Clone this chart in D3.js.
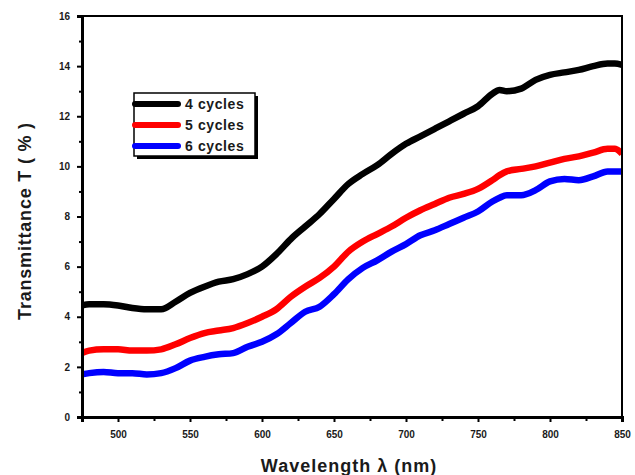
<!DOCTYPE html>
<html>
<head>
<meta charset="utf-8">
<script src="https://cdn.jsdelivr.net/npm/d3@7"></script>
<style>
  body { margin: 0; background: #fff; }
  text { font-family: Arial, "Liberation Sans", sans-serif; font-weight: bold; }
</style>
</head>
<body>
<div id="chart"></div>
<script>
// wavelength samples (nm) and transmittance (%)
var wavelength = [475, 480, 490, 500, 510, 520, 530, 540, 550, 560, 570, 580, 590, 600, 610, 620, 630, 640, 650,
                  660, 670, 680, 690, 700, 710, 720, 730, 740, 750, 760, 765, 770, 780, 790, 800, 810, 820, 830, 840, 845, 850];
var cycles4 = [4.45, 4.5, 4.5, 4.45, 4.35, 4.3, 4.3, 4.6, 4.95, 5.2, 5.4, 5.5, 5.7, 6.0, 6.5, 7.1, 7.6, 8.1, 8.7,
               9.3, 9.7, 10.05, 10.5, 10.9, 11.2, 11.5, 11.8, 12.1, 12.4, 12.9, 13.05, 13.0, 13.1, 13.45, 13.65, 13.75, 13.85, 14.0, 14.1, 14.1, 14.05];
var cycles5 = [2.55, 2.65, 2.7, 2.7, 2.65, 2.65, 2.7, 2.9, 3.15, 3.35, 3.45, 3.55, 3.75, 4.0, 4.3, 4.8, 5.2, 5.55, 6.0,
               6.6, 7.0, 7.3, 7.6, 7.95, 8.25, 8.5, 8.75, 8.9, 9.1, 9.45, 9.65, 9.8, 9.9, 10.0, 10.15, 10.3, 10.4, 10.55, 10.7, 10.7, 10.5];
var cycles6 = [1.7, 1.75, 1.8, 1.75, 1.75, 1.7, 1.75, 1.95, 2.25, 2.4, 2.5, 2.55, 2.8, 3.0, 3.3, 3.75, 4.2, 4.4, 4.9,
               5.5, 5.95, 6.25, 6.6, 6.9, 7.25, 7.45, 7.7, 7.95, 8.2, 8.6, 8.75, 8.85, 8.85, 9.05, 9.4, 9.5, 9.45, 9.6, 9.8, 9.8, 9.8];
var seriesNames = ["4 cycles", "5 cycles", "6 cycles"];
var seriesColors = ["#000000", "#ff0000", "#0000ff"];
var xTicks = [500, 550, 600, 650, 700, 750, 800, 850];
var yTicks = [0, 2, 4, 6, 8, 10, 12, 14, 16];

var svgWidth = 635, svgHeight = 475;
var margin = {top: 16, right: 13, bottom: 58, left: 82},
    width = svgWidth - margin.left - margin.right,
    height = svgHeight - margin.top - margin.bottom;

var svg = d3.select("#chart").append("svg")
    .attr("width", svgWidth)
    .attr("height", svgHeight);

var g = svg.append("g")
    .attr("transform", "translate(" + margin.left + "," + margin.top + ")");

var x = d3.scaleLinear().domain([475, 850]).range([0, width]);
var y = d3.scaleLinear().domain([0, 16]).range([height, 0]);

// curves
var series = [cycles4, cycles5, cycles6];
var line = d3.line()
    .x(function(d, i) { return x(wavelength[i]); })
    .y(function(d) { return y(d); })
    .curve(d3.curveMonotoneX);

g.append("clipPath").attr("id", "clip")
  .append("rect").attr("width", width).attr("height", height);

g.selectAll(".curve")
    .data(series)
  .enter().append("path")
    .attr("class", "curve")
    .attr("clip-path", "url(#clip)")
    .attr("fill", "none")
    .attr("stroke", function(d, i) { return seriesColors[i]; })
    .attr("stroke-width", 6.5)
    .attr("stroke-linejoin", "round")
    .attr("d", line);

// frame (top and right)
g.append("path")
    .attr("d", "M0,0H" + width + "V" + height)
    .attr("fill", "none")
    .attr("stroke", "#000")
    .attr("stroke-width", 2);

// axes
var xAxis = d3.axisBottom(x).tickValues(xTicks).tickSize(5).tickPadding(9).tickFormat(d3.format("d"));
var xMinor = d3.axisBottom(x).tickValues([475, 525, 575, 625, 675, 725, 775, 825]).tickSize(4).tickFormat("");
var yAxis = d3.axisLeft(y).tickValues(yTicks).tickSize(5).tickPadding(7);
var yMinor = d3.axisLeft(y).tickValues([1, 3, 5, 7, 9, 11, 13, 15]).tickSize(3).tickFormat("");

function styleAxis(sel) {
  sel.select(".domain").attr("stroke-width", 3);
  sel.selectAll(".tick line").attr("stroke-width", 2);
  sel.selectAll("text").style("font-size", "10px").style("font-weight", "bold").attr("fill", "#1a1a1a");
}

g.append("g").attr("transform", "translate(0," + height + ")").call(xMinor).call(styleAxis);
g.append("g").attr("transform", "translate(0," + height + ")").call(xAxis).call(styleAxis);
g.append("g").call(yMinor).call(styleAxis);
g.append("g").call(yAxis).call(styleAxis);

// axis titles
svg.append("text")
    .attr("x", 349)
    .attr("y", 472)
    .attr("text-anchor", "middle")
    .style("font-size", "18px")
    .style("letter-spacing", "1px")
    .attr("fill", "#1a1a1a")
    .text("Wavelength \u03bb (nm)");

svg.append("text")
    .attr("transform", "translate(31,221) rotate(-90)")
    .attr("text-anchor", "middle")
    .style("font-size", "18px")
    .style("letter-spacing", "0.8px")
    .attr("fill", "#1a1a1a")
    .text("Transmittance T ( % )");

// legend
var legend = svg.append("g").attr("transform", "translate(134,93)");
legend.append("rect")
    .attr("x", 3).attr("y", 3).attr("width", 121).attr("height", 63)
    .attr("fill", "#000");
legend.append("rect")
    .attr("x", 0).attr("y", 0).attr("width", 121).attr("height", 63)
    .attr("fill", "#fff").attr("stroke", "#000").attr("stroke-width", 1.5);

var rows = legend.selectAll(".row")
    .data(seriesNames)
  .enter().append("g")
    .attr("class", "row")
    .attr("transform", function(d, i) { return "translate(0," + (11 + i * 21) + ")"; });

rows.append("line")
    .attr("x1", 1).attr("x2", 44)
    .attr("stroke", function(d, i) { return seriesColors[i]; })
    .attr("stroke-width", 6)
    .attr("stroke-linecap", "round");

rows.append("text")
    .attr("x", 51)
    .attr("y", 5)
    .style("font-size", "14px")
    .style("letter-spacing", "0.6px")
    .attr("fill", "#1a1a1a")
    .text(function(d) { return d; });
</script>
</body>
</html>
